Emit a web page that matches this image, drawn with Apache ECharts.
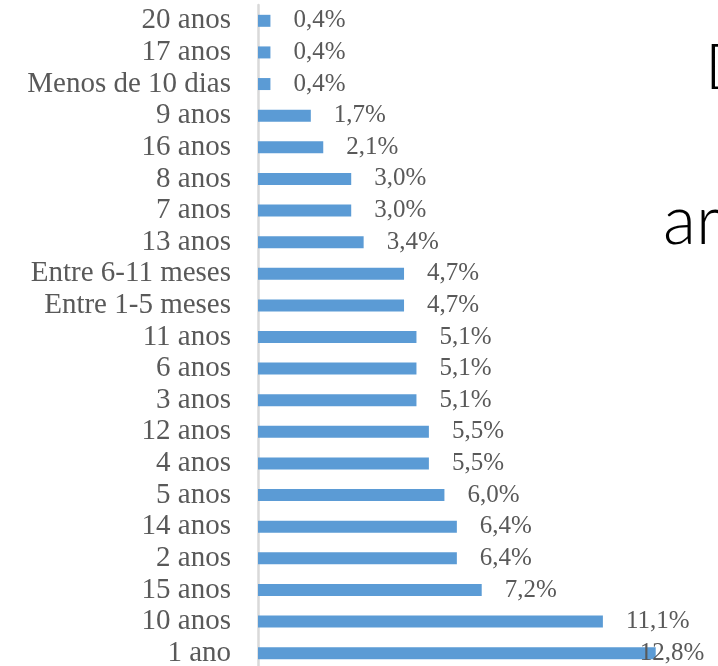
<!DOCTYPE html>
<html>
<head>
<meta charset="utf-8">
<script src="https://cdn.jsdelivr.net/npm/echarts@6/dist/echarts.min.js"></script>
<style>
  html, body { margin: 0; padding: 0; background: #fff; }
  #chart { width: 718px; height: 666px; }
</style>
</head>
<body>
<div id="chart"></div>
<script>
// categories, top to bottom as in the picture
const categories = [
  '20 anos', '17 anos', 'Menos de 10 dias', '9 anos', '16 anos', '8 anos',
  '7 anos', '13 anos', 'Entre 6-11 meses', 'Entre 1-5 meses', '11 anos',
  '6 anos', '3 anos', '12 anos', '4 anos', '5 anos', '14 anos', '2 anos',
  '15 anos', '10 anos', '1 ano'
]
// percentage values
const values = [
  0.4, 0.4, 0.4, 1.7, 2.1, 3.0,
  3.0, 3.4, 4.7, 4.7, 5.1,
  5.1, 5.1, 5.5, 5.5, 6.0, 6.4, 6.4,
  7.2, 11.1, 12.8
]

const maxValue = Math.max(...values)
const textGray = '#595959'

const chart = echarts.init(document.getElementById('chart'))

const option = {
  backgroundColor: '#fff',
  animation: false,
  grid: {
    left: 258,
    right: 25,
    top: 5,
    height: 664,
    outerBoundsMode: 'none'
  },
  xAxis: {
    type: 'value',
    min: 0,
    max: 14,
    show: false
  },
  yAxis: {
    type: 'category',
    inverse: true,
    data: categories,
    axisLine: { show: true, lineStyle: { color: '#d9d9d9', width: 2.5 } },
    axisTick: { show: false },
    axisLabel: {
      interval: 0,
      margin: 27,
      color: textGray,
      fontFamily: 'Liberation Serif',
      fontSize: 29
    }
  },
  series: [
    {
      type: 'bar',
      barWidth: 12,
      itemStyle: { color: '#5b9bd5' },
      label: {
        show: true,
        position: 'right',
        distance: 23,
        color: textGray,
        fontFamily: 'Liberation Serif',
        fontSize: 25,
        formatter: p => p.value.toFixed(1).replace('.', ',') + '%'
      },
      // the largest label is pulled back inside the plot, as in the source
      data: values.map(v => v === maxValue
        ? { value: v, label: { offset: [-39, 0] } }
        : v)
    }
  ],
  graphic: [
    {
      type: 'text',
      left: 705,
      top: 36,
      style: { text: 'D', fontFamily: 'Lato', fontWeight: 300, fontSize: 64, fill: '#000' }
    },
    {
      type: 'text',
      left: 663,
      top: 188,
      style: { text: 'ar', fontFamily: 'Lato', fontWeight: 300, fontSize: 68, fill: '#000' }
    }
  ]
}

chart.setOption(option)
</script>
</body>
</html>
